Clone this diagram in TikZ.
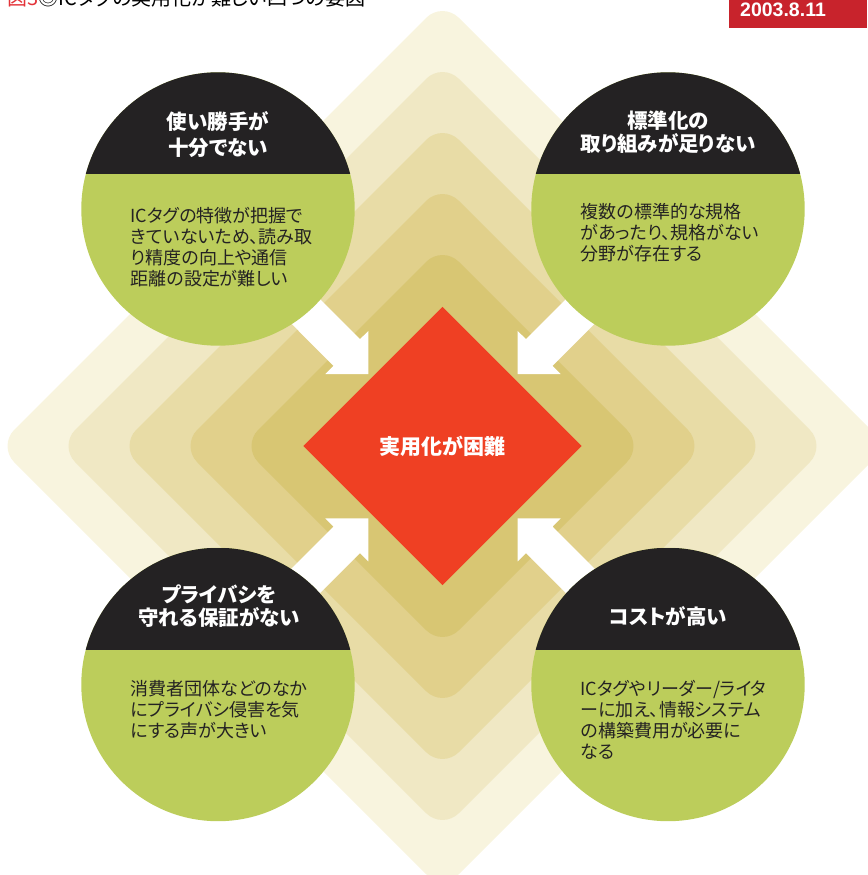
\documentclass[tikz,border=0pt]{standalone}
\usepackage{fontspec}
\usepackage{tikz}
\usetikzlibrary{shapes.geometric, calc}
\newfontfamily\jp[RawFeature=+palt]{Noto Sans CJK JP}
\newfontfamily\datefont{Liberation Sans}
\definecolor{ringa}{HTML}{F8F4DE}
\definecolor{ringb}{HTML}{F0E8C4}
\definecolor{ringc}{HTML}{E8DCA6}
\definecolor{ringd}{HTML}{E1D08B}
\definecolor{ringe}{HTML}{D8C673}
\definecolor{leaf}{HTML}{BCCD5B}
\definecolor{ink}{HTML}{242223}
\definecolor{alarm}{HTML}{EF4023}
\definecolor{figred}{HTML}{E3343A}
\definecolor{datered}{HTML}{C8232C}
\tikzset{
    bubble/.style={circle, minimum size=273.4pt, inner sep=0pt, fill=leaf,
        path picture={\fill[ink] (path picture bounding box.north west) rectangle ([yshift=35pt]path picture bounding box.east);}},
    headtext/.style={text=white, align=center, inner sep=0pt, font=\jp\bfseries\fontsize{20.5}{23}\selectfont},
    bodytext/.style={text=ink, align=left, anchor=north west, inner sep=0pt, font=\jp\fontsize{18}{21}\selectfont}
}
\newcommand{\drawring}[2]{
    \fill[#2, rounded corners=23pt] ($(mid)+(-#1, 0)$) -- ($(mid)+(0, -#1)$) -- ($(mid)+(#1, 0)$) -- ($(mid)+(0, #1)$) -- cycle;
}
\newcommand{\drawinarrow}[3]{
    \fill[white, shift={#1}, xscale=#2, yscale=#3] (0, 0) -- (0, -43) -- (-8.3, -34.8) -- (-79, -105.5) -- (-105.5, -79) -- (-34.8, -8.2) -- (-43, 0) -- cycle;
}

\begin{document}
\begin{tikzpicture}[x=1pt, y=-1pt]
        \useasboundingbox (0, 0) rectangle (867, 875);
        \coordinate (mid) at (442.5, 446);
        \drawring{444.5}{ringa}
        \drawring{383.5}{ringb}
        \drawring{322.5}{ringc}
        \drawring{261.5}{ringd}
        \drawring{200.5}{ringe}
        \drawinarrow{(368.3, 374)}{1}{1}
        \drawinarrow{(517.7, 374)}{-1}{1}
        \drawinarrow{(368.3, 518.3)}{1}{-1}
        \drawinarrow{(517.7, 518.3)}{-1}{-1}
        \node[bubble] (usab) at (218, 209) {};
        \node[bubble] (stdz) at (668, 209) {};
        \node[bubble] (priv) at (218, 684.5) {};
        \node[bubble] (cost) at (668, 684.5) {};
        \node[diamond, fill=alarm, minimum width=278.6pt, minimum height=278.6pt, inner sep=0pt, text=white, font=\jp\bfseries\fontsize{21}{24}\selectfont] (hard) at (mid) {実用化が困難};
        \node[headtext] (usabhead) at ($(usab)+(0, -74.5)$) {使い勝手が\\[3.7pt]十分でない};
        \node[headtext] (stdzhead) at ($(stdz)+(0, -76.5)$) {標準化の\\取り組みが足りない};
        \node[headtext] (privhead) at ($(priv)+(1, -78.5)$) {プライバシを\\守れる保証がない};
        \node[headtext] (costhead) at ($(cost)+(0, -68)$) {コストが高い};
        \node[bodytext] (usabbody) at ($(usab)+(-87.5, -1.6)$) {ICタグの特徴が把握で\\きていないため、読み取\\り精度の向上や通信\\距離の設定が難しい};
        \node[bodytext] (stdzbody) at ($(stdz)+(-87.5, -5.6)$) {複数の標準的な規格\\があったり、規格がない\\分野が存在する};
        \node[bodytext] (privbody) at ($(priv)+(-87.5, -4.5)$) {消費者団体などのなか\\にプライバシ侵害を気\\にする声が大きい};
        \node[bodytext] (costbody) at ($(cost)+(-87.5, -4.5)$) {ICタグやリーダー/ライタ\\ーに加え、情報システム\\の構築費用が必要に\\なる};
        \fill[datered] (729.3, -5) rectangle (867, 28.3);
        \node[anchor=base west, inner sep=0pt, text=white, font=\datefont\bfseries\fontsize{19.5}{24}\selectfont] (date) at (740, 16.7) {2003.8.11};
        \node[anchor=base west, inner sep=0pt, text=black, font=\jp\fontsize{20}{24}\selectfont] (caption) at (7, 6) {\textcolor{figred}{図3}◎ICタグの実用化が難しい四つの要因};
\end{tikzpicture}
\end{document}
